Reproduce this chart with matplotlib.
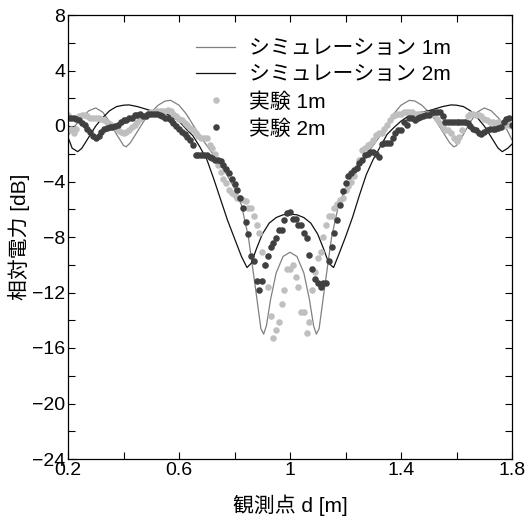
import numpy as np
import matplotlib.pyplot as plt
from matplotlib.ticker import MultipleLocator

plt.rcParams['font.family'] = ['Liberation Sans', 'Noto Sans CJK JP', 'DejaVu Sans']
plt.rcParams['axes.unicode_minus'] = True

# simulation curves
sim1_d = [0.200, 0.225, 0.250, 0.275, 0.300, 0.325, 0.350, 0.375, 0.400, 0.410,
          0.425, 0.450, 0.475, 0.500, 0.525, 0.550, 0.570, 0.600, 0.625, 0.650,
          0.675, 0.700, 0.725, 0.750, 0.775, 0.800, 0.825, 0.850, 0.875, 0.895,
          0.905, 0.915, 0.930, 0.950, 0.975, 1.000, 1.025, 1.050, 1.070, 1.085,
          1.095, 1.105, 1.125, 1.150, 1.175, 1.200, 1.225, 1.250, 1.275, 1.300,
          1.325, 1.350, 1.375, 1.400, 1.430, 1.450, 1.475, 1.500, 1.525, 1.550,
          1.575, 1.590, 1.600, 1.625, 1.650, 1.675, 1.700, 1.725, 1.750, 1.775,
          1.800]
sim1_db = [-0.7, 0.0, 0.6, 1.1, 1.3, 1.0, 0.3, -0.6, -1.4, -1.5,
           -1.2, -0.4, 0.4, 1.0, 1.5, 1.8, 1.85, 1.5, 0.9, 0.1,
           -0.7, -1.4, -2.1, -2.8, -3.6, -4.5, -5.7, -8.0, -11.6, -14.6,
           -15.0, -14.4, -12.5, -10.6, -9.4, -9.1, -9.4, -10.6, -12.5, -14.4,
           -15.0, -14.6, -11.6, -8.0, -5.7, -4.5, -3.6, -2.8, -2.1, -1.4,
           -0.7, 0.1, 0.9, 1.5, 1.85, 1.8, 1.5, 1.0, 0.4, -0.4,
           -1.2, -1.5, -1.4, -0.6, 0.3, 1.0, 1.3, 1.1, 0.6, 0.0,
           -1.0]

sim2_d = [0.200, 0.215, 0.235, 0.250, 0.275, 0.300, 0.325, 0.350, 0.375, 0.400,
          0.420, 0.450, 0.475, 0.500, 0.525, 0.550, 0.575, 0.600, 0.625, 0.650,
          0.675, 0.700, 0.725, 0.750, 0.775, 0.800, 0.825, 0.845, 0.860, 0.880,
          0.900, 0.925, 0.950, 0.975, 1.000, 1.025, 1.050, 1.075, 1.100, 1.120,
          1.140, 1.157, 1.175, 1.200, 1.225, 1.250, 1.275, 1.300, 1.325, 1.350,
          1.375, 1.400, 1.425, 1.450, 1.475, 1.500, 1.525, 1.550, 1.580, 1.600,
          1.625, 1.650, 1.675, 1.700, 1.725, 1.750, 1.765, 1.785, 1.800]
sim2_db = [-0.8, -1.6, -1.85, -1.6, -0.8, 0.0, 0.6, 1.1, 1.4, 1.5,
           1.52, 1.4, 1.25, 1.1, 1.0, 0.9, 0.7, 0.35, -0.2, -0.7,
           -1.5, -2.4, -3.8, -5.3, -6.8, -8.1, -9.4, -10.2, -9.9, -8.8,
           -7.8, -7.0, -6.6, -6.4, -6.35, -6.4, -6.6, -7.0, -7.8, -8.8,
           -9.9, -10.2, -9.3, -8.0, -6.6, -5.0, -3.5, -2.4, -1.5, -0.6,
           -0.1, 0.35, 0.7, 0.9, 1.0, 1.1, 1.25, 1.4, 1.52, 1.5,
           1.4, 1.1, 0.6, 0.0, -0.8, -1.6, -1.85, -1.6, -1.3]

# measured points, every 0.01 m from 0.20 to 1.80
d_exp = np.round(np.arange(0.20, 1.805, 0.01), 2)

exp1_db = [0.8, -0.2, -0.5, -0.2, 0.7, 0.8, 0.8, 0.7, 0.6, 0.6,
           0.6, 0.6, 0.5, 0.45, 0.3, 0.15, 0.0, -0.1, -0.3, -0.4,
           -0.5, -0.45, -0.3, -0.1, 0.1, 0.3, 0.5, 0.7, 0.8, 0.9,
           1.0, 1.0, 1.1, 1.1, 1.1, 1.05, 1.15, 1.1, 0.9, 0.75,
           0.5, 0.4, 0.2, 0.05, -0.15, -0.3, -0.5, -0.7, -0.9, -0.9,
           -0.9, -1.4, -1.6, -2.0, -2.8, -3.3, -3.8, -4.1, -4.6, -4.8,
           -5.0, -5.2, -5.2, -5.3, -5.4, -5.9, -5.9, -6.5, -7.1, -7.7,
           -9.1, -10.0, -11.6, -13.7, -15.3, -14.7, -14.1, -12.8, -11.8, -10.3,
           -10.3, -10.0, -10.9, -11.6, -13.4, -13.4, -14.9, -14.1, -11.8, -10.5,
           -9.5, -9.1, -8.0, -7.1, -6.5, -6.5, -5.9, -5.6, -5.3, -5.2,
           -4.6, -4.3, -4.0, -3.6, -3.0, -2.45, -1.73, -1.6, -1.4, -1.3,
           -1.0, -0.65, -0.53, -0.5, -0.2, 0.07, 0.4, 0.7, 0.8, 0.9,
           0.9, 1.0, 1.0, 1.0, 1.0, 0.9, 0.9, 0.9, 0.9, 0.9,
           0.9, 0.9, 0.9, 0.5, 0.2, -0.1, -0.3, -0.3, -0.5, -0.9,
           -1.1, -0.8, -0.3, 0.3, 0.7, 0.9, 0.9, 0.8, 0.8, 0.7,
           0.5, 0.4, 0.3, 0.3, 0.2, 0.3, 0.1, 0.0, 0.2, 0.1,
           0.0]

exp2_db = [0.6, 0.6, 0.55, 0.5, 0.4, 0.2, 0.05, -0.2, -0.45, -0.75,
           -0.9, -0.7, -0.4, -0.2, -0.15, -0.1, -0.05, 0.0, 0.1, 0.3,
           0.45, 0.45, 0.55, 0.55, 0.8, 0.8, 0.9, 0.7, 0.7, 0.9,
           0.9, 0.9, 0.9, 0.8, 0.7, 0.6, 0.55, 0.4, 0.2, 0.0,
           -0.2, -0.4, -0.55, -0.8, -1.0, -1.4, -2.1, -2.1, -2.1, -2.1,
           -2.1, -2.2, -2.3, -2.45, -2.45, -2.5, -2.8, -3.1, -3.4, -3.8,
           -4.2, -4.6, -5.2, -5.9, -6.9, -7.8, -9.4, -9.7, -11.2, -11.8,
           -11.2, -10.0, -9.4, -8.7, -8.4, -8.1, -7.5, -7.5, -6.8, -6.3,
           -6.2, -6.7, -6.7, -7.1, -7.1, -7.7, -8.1, -9.3, -10.3, -11.0,
           -11.3, -11.6, -11.3, -11.3, -9.7, -8.7, -7.7, -6.8, -5.7, -4.7,
           -4.1, -3.6, -3.4, -3.2, -3.0, -2.7, -2.45, -2.1, -2.0, -1.85,
           -1.85, -2.0, -2.2, -1.3, -1.25, -1.25, -1.25, -0.9, -0.5, -0.3,
           -0.3, 0.3, 0.1, 0.55, 0.55, 0.45, 0.55, 0.65, 0.7, 0.8,
           0.8, 1.0, 1.0, 1.0, 1.0, 0.7, 0.3, 0.3, 0.3, 0.3,
           0.3, 0.3, 0.3, 0.3, 0.2, 0.0, -0.2, -0.3, -0.5, -0.55,
           -0.4, -0.3, -0.2, -0.2, -0.2, -0.15, -0.1, 0.3, 0.5, 0.6,
           0.1]

labels = ['シミュレーション 1m', 'シミュレーション 2m', '実験 1m', '実験 2m']

fig = plt.figure(figsize=(5.28, 5.21), dpi=100)
ax = fig.add_axes([68/528, 1 - 459/521, 444/528, 444/521])

ax.plot(sim1_d, sim1_db, color='#808080', lw=0.9, label=labels[0])
ax.plot(sim2_d, sim2_db, color='#111111', lw=0.9, label=labels[1])
ax.plot(d_exp, exp1_db, 'o', color='#bfbfbf', ms=4.7, mew=0, label=labels[2])
ax.plot(d_exp, exp2_db, 'o', color='#404040', ms=4.7, mew=0, label=labels[3])

ax.set_xlim(0.2, 1.8)
ax.set_ylim(-24, 8)
ax.xaxis.set_minor_locator(MultipleLocator(0.2))
ax.yaxis.set_major_locator(MultipleLocator(4))
ax.yaxis.set_minor_locator(MultipleLocator(2))
ax.set_xticks([0.2, 0.6, 1.0, 1.4, 1.8])
ax.set_xticklabels(['0.2', '0.6', '1', '1.4', '1.8'])
ax.tick_params(which='both', direction='in', top=True, right=True,
               labelsize=14, length=5, width=0.8)
ax.tick_params(axis='y', pad=2)
ax.tick_params(axis='x', pad=2)
for s in ax.spines.values():
    s.set_linewidth(0.9)

ax.set_xlabel('観測点 d [m]', fontsize=15)
ax.set_ylabel('相対電力 [dB]', fontsize=15)
ax.xaxis.set_label_coords(0.5, -0.08)
ax.yaxis.set_label_coords(-0.085, 0.5)

ax.legend(loc='upper left', bbox_to_anchor=(0.288, 0.946), frameon=False,
          fontsize=15, handlelength=1.9, handletextpad=0.67, labelspacing=0.36,
          borderpad=0, borderaxespad=0, numpoints=1)

plt.savefig('out.png', dpi=100)
